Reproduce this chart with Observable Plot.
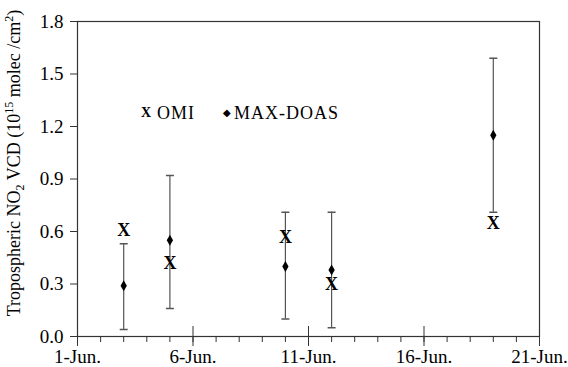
<!DOCTYPE html>
<html>
<head>
<meta charset="utf-8">
<script src="https://cdn.jsdelivr.net/npm/d3@7"></script>
<script src="https://cdn.jsdelivr.net/npm/@observablehq/plot@0.6"></script>
<style>
  html, body { margin: 0; padding: 0; background: #fff; }
  #wrap { position: relative; width: 568px; height: 367px; font-family: "Liberation Serif", serif; }
  .leg { position: absolute; font-size: 18px; color: #000; line-height: 1; white-space: nowrap; }
  .leg-sym { position: absolute; font-weight: bold; line-height: 1; }
</style>
</head>
<body>
<div id="wrap"></div>
<script>
// ---- data ----
const days = [3, 5, 10, 12, 19];               // day of June
const omiValues = [0.61, 0.42, 0.57, 0.30, 0.65];
const maxdoasValues = [0.29, 0.55, 0.40, 0.38, 1.15];
const errLow = [0.04, 0.16, 0.10, 0.05, 0.71];
const errHigh = [0.53, 0.92, 0.71, 0.71, 1.59];

const xMajorTicks = [1, 6, 11, 16, 21];
const xMajorLabels = ["1-Jun.", "6-Jun.", "11-Jun.", "16-Jun.", "21-Jun."];
const xMinorTicks = [1,2,3,4,5,6,7,8,9,10,11,12,13,14,15,16,17,18,19,20,21];
const yTicks = [0, 0.3, 0.6, 0.9, 1.2, 1.5, 1.8];
const yTickLabels = ["0.0", "0.3", "0.6", "0.9", "1.2", "1.5", "1.8"];

const rows = days.map((d, i) => ({
  day: d, omi: omiValues[i], maxdoas: maxdoasValues[i], lo: errLow[i], hi: errHigh[i]
}));

const W = 568, H = 367;
const mL = 77, mR = 29, mT = 21, mB = 31;
const plotH = H - mT - mB;
const axisColor = "#333";
const font = "Liberation Serif";

const capSymbol = {
  draw(ctx, size) {
    const w = Math.sqrt(size / Math.PI);
    ctx.moveTo(-w, 0);
    ctx.lineTo(w, 0);
  }
};

const chart = Plot.plot({
  width: W,
  height: H,
  marginLeft: mL,
  marginRight: mR,
  marginTop: mT,
  marginBottom: mB,
  style: { fontFamily: font, fontSize: "19px", color: "#000", background: "#fff" },
  x: { domain: [1, 21] },
  y: { domain: [0, 1.8] },
  marks: [
    Plot.frame({ stroke: axisColor, strokeWidth: 1.2 }),
    // minor daily ticks (outward)
    Plot.axisX({ ticks: xMinorTicks, tickSize: 6, tickFormat: () => "", stroke: axisColor, label: null }),
    // major ticks with labels (outward)
    Plot.axisX({
      ticks: xMajorTicks, tickSize: 10, tickPadding: 3, stroke: axisColor, label: null,
      tickFormat: d => xMajorLabels[xMajorTicks.indexOf(d)], fontSize: 19, fill: "#000"
    }),
    // major ticks inward part
    Plot.ruleX(xMajorTicks, { x: d => d, insetTop: plotH - 10, stroke: axisColor }),
    Plot.axisY({
      ticks: yTicks, tickSize: 7, tickPadding: 7, stroke: axisColor, label: null,
      tickFormat: d => yTickLabels[yTicks.indexOf(d)], fontSize: 19, fill: "#000"
    }),
    // error bars
    Plot.ruleX(rows, { x: "day", y1: "lo", y2: "hi", stroke: "#555", strokeWidth: 1.2 }),
    Plot.dot(rows, { x: "day", y: "lo", symbol: capSymbol, r: 4, stroke: "#555", strokeWidth: 1.5 }),
    Plot.dot(rows, { x: "day", y: "hi", symbol: capSymbol, r: 4, stroke: "#555", strokeWidth: 1.5 }),
    // MAX-DOAS
    Plot.dot(rows, { x: "day", y: "maxdoas", symbol: "diamond", r: 3.3, fill: "#000" }),
    // OMI
    Plot.text(rows, { x: "day", y: "omi", text: () => "X", fontWeight: "bold", fontSize: 18, fontFamily: font, fill: "#000" })
  ]
});

const wrap = document.getElementById("wrap");
wrap.appendChild(chart);

// y-axis title with subscripts / superscripts
const svg = d3.select(chart);
const t = svg.append("text")
  .attr("transform", "translate(20,163) rotate(-90)")
  .attr("text-anchor", "middle")
  .attr("font-family", font)
  .attr("font-size", 18)
  .attr("fill", "#000");
t.append("tspan").text("Tropospheric NO");
t.append("tspan").attr("font-size", 12).attr("dy", 4).text("2");
t.append("tspan").attr("dy", -4).text(" VCD (10");
t.append("tspan").attr("font-size", 12).attr("dy", -7).text("15");
t.append("tspan").attr("dy", 7).text(" molec /cm");
t.append("tspan").attr("font-size", 12).attr("dy", -7).text("2");
t.append("tspan").attr("dy", 7).text(")");

// legend
const legendItems = [
  { sym: "X", label: "OMI", symX: 146, textX: 157, symSize: 14, bold: true },
  { sym: "\u25C6", label: "MAX-DOAS", symX: 227, textX: 234, symSize: 10, bold: false }
];
legendItems.forEach(it => {
  const s = document.createElement("span");
  s.className = "leg-sym";
  s.textContent = it.sym;
  s.style.fontSize = it.symSize + "px";
  s.style.fontWeight = it.bold ? "bold" : "normal";
  s.style.left = it.symX + "px";
  s.style.top = "113px";
  s.style.transform = "translate(-50%,-50%)";
  wrap.appendChild(s);
  const l = document.createElement("span");
  l.className = "leg";
  l.textContent = it.label;
  l.style.left = it.textX + "px";
  l.style.top = "104px";
  l.style.letterSpacing = "1px";
  wrap.appendChild(l);
});
</script>
</body>
</html>
